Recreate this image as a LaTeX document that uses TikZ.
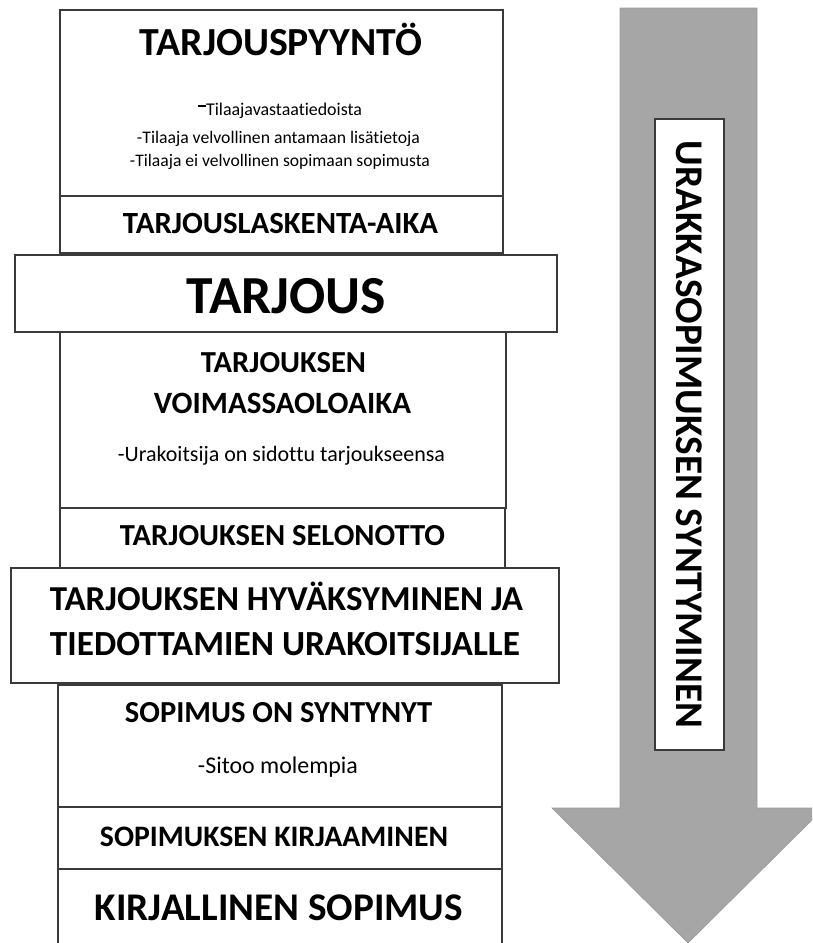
\documentclass[tikz,border=0pt]{standalone}
\usepackage{fontspec}
\setmainfont{Carlito}[Ligatures={NoCommon}]
\usepackage{graphicx}
\definecolor{edge}{HTML}{3A3A3A}
\definecolor{arrowgray}{HTML}{A6A6A6}
\newcommand{\fitto}[2]{\resizebox{#1pt}{!}{#2}}
\begin{document}
\begin{tikzpicture}[x=1pt,y=-1pt,
  box/.style={draw=edge, line width=1.5pt, fill=white, inner sep=0pt, outer sep=0pt},
  ttl/.style={anchor=base, inner sep=0pt, outer sep=0pt, font=\bfseries},
  subt/.style={anchor=base, inner sep=0pt, outer sep=0pt}]
\useasboundingbox (0,0) rectangle (812,943);
\clip (0,0) rectangle (812,943);
\fill[white] (0,0) rectangle (812,943);
% big arrow
\fill[arrowgray, draw=arrowgray!92!black, line width=0.6pt]
  (620,8) -- (757,8) -- (757,808) -- (824,808) -- (688,943) -- (552,808) -- (620,808) -- cycle;
\node[box, line width=1.2pt, minimum width=69, minimum height=631] (vb) at (689.5,434.5) {};
\node[ttl, anchor=center, rotate=-90] (tv) at (vb.center) {\fitto{587}{URAKKASOPIMUKSEN SYNTYMINEN}};
% stacked boxes
\node[box, minimum width=443, minimum height=186] (b1) at (281.5,103) {};
\node[box, minimum width=443, minimum height=57] (b2) at (281.5,224.5) {};
\node[box, minimum width=446, minimum height=176] (b4) at (283,420) {};
\node[box, minimum width=445, minimum height=60] (b5) at (282.5,538) {};
\node[box, minimum width=444, minimum height=122] (b7) at (280,746) {};
\node[box, minimum width=444, minimum height=62] (b8) at (280,838) {};
\node[box, minimum width=444, minimum height=86] (b9) at (280,912) {};
\node[box, minimum width=542, minimum height=77] (b3) at (286,293.5) {};
\node[box, minimum width=548, minimum height=115] (b6) at (285,625.5) {};
% texts
\node[ttl] (t1) at (281,55) {\fitto{282}{TARJOUSPYYNTÖ}};
\node[subt] (s1a) at (280,115) {\fitto{164}{\raisebox{0.47em}{\rule{0.45em}{0.09em}}Tilaajavastaatiedoista}};
\node[subt] (s1b) at (278.5,143) {\fitto{283}{-Tilaaja velvollinen antamaan lisätietoja}};
\node[subt] (s1c) at (280,166) {\fitto{300}{-Tilaaja ei velvollinen sopimaan sopimusta}};
\node[ttl] (t2) at (280.5,233) {\fitto{315}{TARJOUSLASKENTA-AIKA}};
\node[ttl] (t3) at (286.5,313) {\fitto{199}{TARJOUS}};
\node[ttl] (t4a) at (283.5,372) {\fitto{165}{TARJOUKSEN}};
\node[ttl] (t4b) at (282.5,413) {\fitto{257}{VOIMASSAOLOAIKA}};
\node[subt] (s4) at (281.5,461) {\fitto{327}{-Urakoitsija on sidottu tarjoukseensa}};
\node[ttl] (t5) at (282.5,545) {\fitto{325}{TARJOUKSEN SELONOTTO}};
\node[ttl] (t6a) at (286.5,610) {\fitto{473}{TARJOUKSEN HYVÄKSYMINEN JA}};
\node[ttl] (t6b) at (285,655) {\fitto{470}{TIEDOTTAMIEN URAKOITSIJALLE}};
\node[ttl] (t7) at (278.5,722) {\fitto{307}{SOPIMUS ON SYNTYNYT}};
\node[subt] (s7) at (278,773) {\fitto{160}{-Sitoo molempia}};
\node[ttl] (t8) at (274,846) {\fitto{348}{SOPIMUKSEN KIRJAAMINEN}};
\node[ttl] (t9) at (279,920) {\fitto{368}{KIRJALLINEN SOPIMUS}};
\end{tikzpicture}
\end{document}
